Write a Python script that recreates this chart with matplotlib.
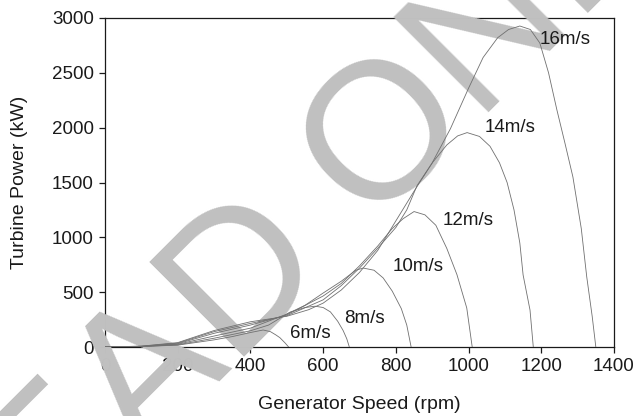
import matplotlib
matplotlib.use("Agg")
import matplotlib.pyplot as plt

# generator speed (rpm) / turbine power (kW)
rpm_6 = [0, 100, 200, 300, 350, 400, 435, 455, 470, 481, 495, 505]
kw_6 = [0, 4, 17, 65, 95, 132, 155, 140, 110, 85, 38, 0]

rpm_8 = [0, 100, 200, 300, 400, 450, 509, 550, 578, 600, 620, 640, 655, 665, 672]
kw_8 = [0, 4, 20, 80, 148, 200, 318, 360, 372, 360, 320, 235, 150, 75, 0]

rpm_10 = [0, 100, 200, 300, 400, 500, 550, 600, 650, 690, 710, 740, 765, 790, 815, 830, 842]
kw_10 = [0, 5, 25, 100, 172, 300, 380, 492, 600, 700, 720, 700, 630, 510, 350, 200, 0]

rpm_12 = [0, 100, 200, 300, 400, 500, 600, 650, 700, 750, 790, 820, 850, 880, 910, 940, 968, 995, 1010]
kw_12 = [0, 6, 30, 125, 200, 292, 465, 580, 740, 920, 1080, 1170, 1235, 1205, 1110, 900, 660, 356, 0]

rpm_14 = [0, 100, 200, 300, 400, 500, 600, 650, 700, 750, 800, 830, 858, 902, 940, 970, 996,
          1030, 1059, 1085, 1106, 1125, 1141, 1150, 1169, 1178]
kw_14 = [0, 7, 35, 140, 215, 285, 430, 560, 720, 900, 1090, 1250, 1470, 1687, 1842, 1925, 1955,
         1920, 1830, 1680, 1500, 1250, 948, 657, 337, 0]

rpm_16 = [0, 100, 200, 300, 400, 500, 560, 600, 650, 700, 750, 800, 850, 900, 950, 1000, 1040,
          1080, 1110, 1141, 1170, 1196, 1220, 1243, 1265, 1287, 1310, 1325, 1340, 1350]
kw_16 = [0, 8, 40, 150, 230, 280, 340, 400, 520, 680, 880, 1150, 1420, 1680, 1990, 2360, 2640,
         2820, 2895, 2927, 2895, 2772, 2500, 2161, 1860, 1550, 1080, 640, 280, 0]

labels = ["6m/s", "8m/s", "10m/s", "12m/s", "14m/s", "16m/s"]
label_x = [509, 657, 792, 930, 1045, 1196]
label_y = [123, 260, 730, 1153, 1997, 2808]

curves = [(rpm_6, kw_6), (rpm_8, kw_8), (rpm_10, kw_10),
          (rpm_12, kw_12), (rpm_14, kw_14), (rpm_16, kw_16)]

plt.rcParams['font.family'] = ['Liberation Sans', 'DejaVu Sans']

fig = plt.figure(figsize=(6.39, 4.16), dpi=100)
ax = fig.add_axes([105 / 639, 1 - 347 / 416, 509 / 639, 329 / 416])
ax.set_facecolor('none')

for x, y in curves:
    ax.plot(x, y, color='#707070', lw=0.6, zorder=4)

for t, x, y in zip(labels, label_x, label_y):
    ax.text(x, y, t, fontsize=13.5, color='#1a1a1a', ha='left', va='center', zorder=4)

ax.set_xlim(0, 1400)
ax.set_ylim(0, 3000)
ax.set_xticks(range(0, 1401, 200))
ax.set_yticks(range(0, 3001, 500))
ax.tick_params(direction='out', length=4, width=0.9, labelsize=13.5,
               colors='#1a1a1a', pad=4)
for s in ax.spines.values():
    s.set_linewidth(0.9)
    s.set_color('#1a1a1a')

ax.set_xlabel("Generator Speed (rpm)", fontsize=14, color='#1a1a1a')
ax.set_ylabel("Turbine Power (kW)", fontsize=14, color='#1a1a1a')
ax.xaxis.set_label_coords(0.5, -0.150)
ax.yaxis.set_label_coords(-0.151, 0.5)

# watermark
ax.text(0.481, 0.466, "READ ONLY", transform=fig.transFigure, fontsize=140,
        color='#c0c0c0', rotation=45, ha='center', va='center',
        zorder=3, clip_on=False)

fig.savefig("out.png", dpi=100)
